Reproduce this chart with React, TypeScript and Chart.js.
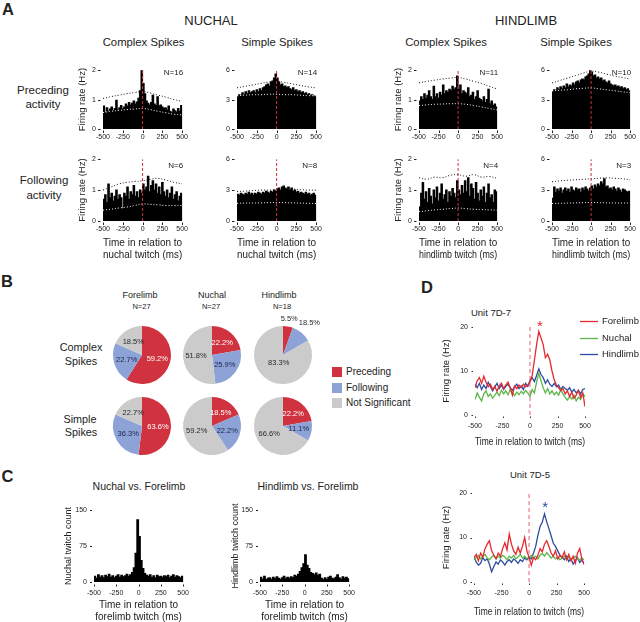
import React, { useEffect, useRef } from 'react';
import { Chart, registerables } from 'chart.js';

Chart.register(...registerables);

const FONT = "'Liberation Sans', Arial, Helvetica, sans-serif";
Chart.defaults.font.family = FONT;
Chart.defaults.color = '#222';

// ================= DATA =================
// Panel A: peri-twitch histograms, 20-ms bins (centres, ms), firing rate (Hz)
const HIST_BINS = [-490, -470, -450, -430, -410, -390, -370, -350, -330, -310, -290, -270, -250, -230, -210, -190, -170, -150, -130, -110, -90, -70, -50, -30, -10, 10, 30, 50, 70, 90, 110, 130, 150, 170, 190, 210, 230, 250, 270, 290, 310, 330, 350, 370, 390, 410, 430, 450, 470, 490];
const BAND_TIMES = [-500, -400, -300, -200, -100, 0, 100, 200, 300, 400, 500];
const X_TICKS_MS = [-500, 500, 250];

const nuchalCsPreceding = [0.78, 0.55, 0.72, 0.6, 0.68, 0.75, 0.62, 0.7, 0.98, 0.65, 0.72, 0.8, 0.68, 0.75, 0.85, 0.78, 0.9, 0.82, 0.88, 0.95, 0.85, 0.92, 1.05, 1.3, 2.0, 1.55, 1.2, 0.95, 0.88, 0.82, 0.9, 1.15, 0.85, 0.8, 1.1, 0.78, 0.82, 0.75, 0.7, 0.72, 0.65, 0.78, 0.6, 0.55, 0.68, 0.62, 0.58, 0.7, 0.6, 0.8];
const nuchalCsPrecedingUpper = [1.04, 1.1, 1.15, 1.2, 1.24, 1.28, 1.22, 1.15, 1.08, 1.0, 0.94];
const nuchalCsPrecedingLower = [0.56, 0.6, 0.63, 0.66, 0.68, 0.7, 0.66, 0.6, 0.55, 0.5, 0.48];

const nuchalSsPreceding = [3.3, 3.5, 3.4, 3.7, 3.5, 3.8, 3.6, 3.9, 3.7, 3.8, 3.9, 3.7, 4.0, 3.8, 4.1, 3.9, 4.2, 4.3, 4.5, 4.6, 4.4, 4.8, 4.9, 5.2, 5.6, 5.2, 4.8, 4.5, 4.6, 4.3, 4.4, 4.2, 4.3, 4.1, 4.0, 4.2, 3.9, 4.0, 3.8, 3.9, 3.7, 3.8, 3.6, 3.7, 3.5, 3.6, 3.4, 3.5, 3.3, 3.4];
const nuchalSsPrecedingUpper = [4.2, 4.35, 4.5, 4.65, 4.8, 4.9, 4.75, 4.6, 4.45, 4.3, 4.2];
const nuchalSsPrecedingLower = [3.4, 3.45, 3.5, 3.5, 3.55, 3.55, 3.5, 3.5, 3.45, 3.4, 3.4];

const hindlimbCsPreceding = [0.95, 1.1, 1.0, 1.2, 1.05, 1.15, 1.3, 1.1, 1.0, 1.45, 1.1, 1.2, 1.05, 1.25, 1.15, 1.5, 1.2, 1.3, 1.25, 1.35, 1.3, 1.45, 1.35, 1.4, 1.8, 1.35, 1.5, 1.2, 1.3, 1.25, 1.2, 1.4, 1.1, 1.15, 1.25, 1.0, 1.1, 1.3, 1.05, 1.0, 0.95, 1.1, 0.9, 1.0, 1.35, 0.85, 0.95, 0.8, 0.85, 0.75];
const hindlimbCsPrecedingUpper = [1.57, 1.62, 1.66, 1.7, 1.73, 1.75, 1.7, 1.62, 1.55, 1.45, 1.36];
const hindlimbCsPrecedingLower = [0.8, 0.82, 0.84, 0.85, 0.86, 0.86, 0.84, 0.8, 0.75, 0.7, 0.65];

const hindlimbSsPreceding = [3.8, 4.0, 3.9, 4.2, 4.0, 4.3, 4.1, 4.4, 4.2, 4.6, 4.3, 4.5, 4.4, 4.7, 4.5, 4.8, 4.9, 4.7, 5.0, 5.1, 5.0, 5.3, 5.4, 5.6, 6.0, 5.8, 5.4, 5.5, 5.2, 5.3, 5.1, 5.2, 4.9, 5.0, 4.8, 4.7, 4.9, 4.6, 4.5, 4.4, 4.5, 4.3, 4.4, 4.2, 4.3, 4.1, 4.2, 4.0, 4.1, 3.9];
const hindlimbSsPrecedingUpper = [4.7, 4.95, 5.2, 5.45, 5.7, 5.9, 5.8, 5.6, 5.4, 5.25, 5.1];
const hindlimbSsPrecedingLower = [3.9, 3.95, 4.0, 4.1, 4.15, 4.2, 4.1, 4.0, 3.9, 3.8, 3.7];

const nuchalCsFollowing = [0.7, 0.85, 0.6, 1.2, 0.75, 0.9, 0.65, 0.8, 1.0, 0.7, 0.85, 0.75, 0.4, 0.9, 0.8, 1.1, 0.7, 0.95, 0.85, 1.15, 0.8, 0.95, 0.75, 1.0, 0.9, 1.2, 1.0, 1.1, 1.45, 0.95, 1.15, 1.3, 1.0, 1.2, 0.9, 1.1, 0.85, 1.25, 0.95, 0.8, 1.0, 0.75, 0.9, 1.1, 0.7, 0.85, 0.95, 0.65, 0.8, 0.9];
const nuchalCsFollowingUpper = [1.0, 1.1, 1.2, 1.25, 1.28, 1.3, 1.35, 1.38, 1.32, 1.25, 1.2];
const nuchalCsFollowingLower = [0.35, 0.38, 0.42, 0.45, 0.5, 0.55, 0.54, 0.52, 0.5, 0.5, 0.5];

const nuchalSsFollowing = [2.6, 2.5, 2.7, 2.6, 2.5, 2.7, 2.6, 2.8, 2.6, 2.7, 2.5, 2.7, 2.6, 2.8, 2.7, 2.6, 2.8, 2.7, 2.9, 2.8, 2.7, 2.9, 2.8, 3.0, 2.9, 3.1, 3.2, 3.0, 3.3, 3.4, 3.2, 3.1, 3.3, 3.0, 3.2, 2.9, 3.0, 2.8, 2.9, 2.7, 2.8, 2.7, 2.6, 2.8, 2.6, 2.7, 2.5, 2.6, 2.7, 2.5];
const nuchalSsFollowingUpper = [2.85, 2.9, 2.95, 3.0, 3.0, 3.05, 3.1, 3.1, 3.05, 3.0, 3.0];
const nuchalSsFollowingLower = [1.72, 1.74, 1.75, 1.76, 1.78, 1.8, 1.78, 1.76, 1.74, 1.72, 1.7];

const hindlimbCsFollowing = [0.45, 0.9, 1.25, 0.7, 0.95, 0.6, 1.05, 0.8, 0.55, 1.0, 0.75, 1.1, 0.65, 0.9, 1.2, 0.7, 0.85, 1.0, 0.6, 0.95, 0.8, 1.05, 0.9, 0.75, 1.3, 1.0, 0.85, 1.15, 0.9, 1.3, 0.95, 1.4, 0.8, 1.2, 1.05, 0.7, 1.25, 0.9, 0.65, 1.0, 0.8, 1.1, 0.6, 0.9, 1.2, 0.75, 0.85, 0.6, 1.0, 0.95];
const hindlimbCsFollowingUpper = [1.4, 1.35, 1.42, 1.4, 1.48, 1.5, 1.45, 1.5, 1.42, 1.44, 1.38];
const hindlimbCsFollowingLower = [0.3, 0.33, 0.36, 0.38, 0.4, 0.42, 0.4, 0.38, 0.37, 0.36, 0.35];

const hindlimbSsFollowing = [2.2, 3.3, 2.8, 3.1, 2.9, 3.2, 2.7, 3.0, 3.2, 2.9, 3.1, 2.8, 3.3, 3.0, 2.9, 3.2, 3.0, 3.1, 2.8, 3.2, 3.0, 3.3, 3.1, 2.9, 3.2, 3.4, 3.1, 3.5, 3.3, 3.6, 3.4, 3.8, 3.6, 4.1, 3.3, 3.4, 3.1, 3.2, 3.0, 3.3, 3.1, 2.9, 3.2, 3.0, 2.8, 3.1, 3.0, 2.9, 2.8, 2.9];
const hindlimbSsFollowingUpper = [3.8, 3.9, 3.95, 4.0, 4.05, 4.1, 4.15, 4.2, 4.15, 4.1, 4.0];
const hindlimbSsFollowingLower = [1.7, 1.72, 1.74, 1.76, 1.78, 1.8, 1.78, 1.76, 1.75, 1.75, 1.75];

// Panel B: proportions of units (%)
const PIE_CATEGORIES = ['Preceding', 'Following', 'Not Significant'];
const forelimbCs = [59.2, 22.7, 18.5];
const nuchalCs = [22.2, 25.9, 51.8];
const hindlimbCs = [5.5, 11.1, 83.3];
const forelimbSs = [63.6, 36.3, 22.7];
const nuchalSs = [18.5, 22.2, 59.2];
const hindlimbSs = [22.2, 11.1, 66.6];
const forelimbCsLabels = ['59.2%', '22.7%', '18.5%'];
const nuchalCsLabels = ['22.2%', '25.9%', '51.8%'];
const hindlimbCsLabels = ['5.5%', '18.5%', '83.3%'];
const forelimbSsLabels = ['63.6%', '36.3%', '22.7%'];
const nuchalSsLabels = ['18.5%', '22.2%', '59.2%'];
const hindlimbSsLabels = ['22.2%', '11.1%', '66.6%'];

// Panel C: cross-correlograms (twitch counts, 20-ms bins)
const nuchalVsForelimb = [12, 8, 15, 10, 13, 9, 14, 11, 16, 10, 13, 9, 12, 15, 10, 14, 11, 13, 16, 12, 15, 20, 30, 60, 130, 95, 45, 28, 18, 14, 12, 15, 10, 13, 9, 14, 11, 12, 10, 13, 11, 14, 9, 12, 15, 10, 13, 11, 9, 12];
const hindlimbVsForelimb = [10, 6, 12, 5, 8, 9, 6, 10, 7, 11, 8, 6, 9, 12, 7, 10, 8, 11, 9, 14, 12, 16, 22, 30, 38, 57, 35, 28, 20, 18, 15, 19, 14, 16, 8, 5, 9, 6, 10, 12, 8, 7, 10, 15, 9, 6, 11, 8, 10, 7];

// Panel D: single-unit firing rate (Hz), 20-ms steps
const TIME_D = [-500, -480, -460, -440, -420, -400, -380, -360, -340, -320, -300, -280, -260, -240, -220, -200, -180, -160, -140, -120, -100, -80, -60, -40, -20, 0, 20, 40, 60, 80, 100, 120, 140, 160, 180, 200, 220, 240, 260, 280, 300, 320, 340, 360, 380, 400, 420, 440, 460, 480, 500];
const D_SERIES = ['Forelimb', 'Nuchal', 'Hindlimb'];
const unit7D7Forelimb = [6.2, 7.8, 8.5, 7.2, 8.8, 7.5, 6.4, 7.0, 5.8, 6.5, 5.4, 6.6, 7.2, 6.0, 6.8, 7.5, 6.2, 4.5, 6.6, 6.0, 6.8, 6.2, 7.0, 6.4, 6.8, 7.5, 9.0, 12.5, 16.0, 19.0, 17.5, 16.0, 13.0, 13.8, 12.5, 10.0, 8.0, 6.8, 6.2, 5.5, 6.0, 4.8, 5.5, 4.2, 5.2, 3.8, 4.5, 5.6, 4.0, 5.0, 1.9];
const unit7D7Nuchal = [3.5, 5.0, 4.0, 3.2, 4.8, 5.5, 4.2, 4.8, 3.8, 4.5, 5.2, 4.4, 5.6, 4.8, 5.5, 4.6, 5.8, 5.0, 4.4, 5.2, 4.6, 5.4, 4.8, 5.6, 5.0, 4.2, 5.8, 5.0, 7.5, 9.5, 7.8, 6.2, 5.0, 6.0, 4.8, 5.5, 4.6, 5.2, 4.5, 5.8, 4.8, 4.0, 3.4, 4.2, 3.6, 4.5, 3.2, 4.0, 3.5, 4.8, 4.2];
const unit7D7Hindlimb = [7.0, 6.2, 7.2, 5.8, 6.8, 6.0, 7.4, 6.5, 5.5, 6.4, 7.2, 6.0, 6.8, 5.8, 6.5, 7.0, 6.2, 5.6, 6.4, 7.0, 6.0, 6.6, 5.8, 7.2, 6.5, 7.8, 8.5, 7.6, 9.0, 10.5, 9.2, 8.5, 7.2, 8.0, 7.0, 6.5, 7.2, 6.4, 6.8, 5.8, 6.5, 6.0, 5.6, 6.2, 5.2, 5.8, 5.0, 5.6, 4.8, 5.8, 6.0];
const unit7D5Forelimb = [5.5, 6.2, 4.8, 6.5, 5.6, 7.5, 8.5, 9.3, 7.0, 6.0, 5.2, 6.5, 5.8, 7.5, 8.8, 7.2, 10.8, 8.5, 7.0, 6.2, 7.8, 6.5, 8.0, 10.0, 7.0, 5.5, 3.8, 5.5, 5.0, 6.0, 7.5, 6.8, 8.5, 9.3, 8.0, 6.5, 5.8, 7.0, 5.2, 6.0, 5.5, 6.8, 5.0, 6.2, 4.8, 5.8, 4.2, 6.5, 7.5, 5.0, 4.0];
const unit7D5Nuchal = [5.0, 5.5, 6.0, 5.2, 5.8, 6.2, 5.4, 5.0, 5.6, 6.0, 5.2, 5.8, 5.4, 6.0, 5.6, 5.0, 5.8, 5.4, 6.0, 5.2, 5.6, 6.2, 5.4, 5.8, 5.2, 5.6, 6.0, 5.4, 5.8, 5.2, 6.0, 6.4, 5.8, 6.6, 6.0, 5.4, 5.8, 5.2, 5.6, 5.0, 5.4, 5.8, 5.2, 5.6, 5.0, 5.4, 5.8, 5.2, 5.0, 5.4, 5.0];
const unit7D5Hindlimb = [5.7, 4.5, 3.8, 4.2, 5.5, 4.8, 5.2, 4.0, 2.3, 3.5, 4.5, 4.0, 5.0, 4.5, 3.8, 4.6, 5.0, 4.4, 5.2, 4.8, 4.2, 5.0, 4.6, 5.4, 5.0, 5.6, 5.2, 6.5, 8.0, 10.5, 12.5, 13.5, 15.3, 13.5, 12.0, 10.4, 8.7, 8.0, 7.0, 6.0, 5.5, 5.0, 5.8, 4.6, 5.2, 4.0, 4.8, 5.5, 4.4, 5.0, 4.0];

// ================= STYLE =================
const PIE_COLORS = ['#d0333f', '#8da2d7', '#cbcbcb'];
const PIE_TEXT = ['#ffffff', '#1c2748', '#2a2a2a'];
const D_COLORS = ['#e4292f', '#5db64a', '#2d4c9e'];
const ZERO_A = '#c8343c';
const ZERO_D = '#e77a8b';

// ================= PLUGINS =================
const rTicks = {
  id: 'rTicks',
  afterDraw(chart: any, _a: any, o: any) {
    if (!o || !o.on) return;
    const ctx = chart.ctx;
    const ca = chart.chartArea;
    ctx.save();
    ctx.strokeStyle = o.color || '#222';
    ctx.lineWidth = 1;
    const ys = chart.scales.y;
    ys.ticks.forEach((t: any) => {
      const p = Math.round(ys.getPixelForValue(t.value)) + 0.5;
      ctx.beginPath();
      ctx.moveTo(ca.left - o.yGap - o.yLen, p);
      ctx.lineTo(ca.left - o.yGap, p);
      ctx.stroke();
    });
    const xs = chart.scales.x;
    xs.ticks.forEach((t: any) => {
      const p = Math.round(xs.getPixelForValue(t.value)) + 0.5;
      ctx.beginPath();
      ctx.moveTo(p, ca.bottom + o.xGap);
      ctx.lineTo(p, ca.bottom + o.xGap + o.xLen);
      ctx.stroke();
    });
    ctx.restore();
  },
};

const annot = {
  id: 'annot',
  afterDatasetsDraw(chart: any, _a: any, o: any) {
    if (!o || !o.items) return;
    const ctx = chart.ctx;
    const ca = chart.chartArea;
    ctx.save();
    for (const it of o.items) {
      let x: number;
      let y: number;
      if (it.rel === 'data') {
        x = chart.scales.x.getPixelForValue(it.x);
        y = chart.scales.y.getPixelForValue(it.y);
      } else {
        x = ca.right + it.x;
        y = ca.top + it.y;
      }
      if (it.line) {
        ctx.strokeStyle = it.lineColor;
        ctx.lineWidth = 1.3;
        ctx.beginPath();
        ctx.moveTo(x, y + 0.5);
        ctx.lineTo(x + it.line, y + 0.5);
        ctx.stroke();
        x += it.line + 4;
      }
      ctx.font = `${it.size}px ${FONT}`;
      ctx.fillStyle = it.color || '#222';
      ctx.textAlign = it.align || 'left';
      ctx.textBaseline = 'middle';
      ctx.fillText(it.text, x, y);
    }
    ctx.restore();
  },
};

const pieLabels = {
  id: 'pieLabels',
  afterDatasetsDraw(chart: any, _a: any, o: any) {
    if (!o || !o.labels) return;
    const ctx = chart.ctx;
    const meta = chart.getDatasetMeta(0);
    ctx.save();
    ctx.font = `${o.size}px ${FONT}`;
    ctx.textAlign = 'center';
    ctx.textBaseline = 'middle';
    meta.data.forEach((arc: any, i: number) => {
      const p = arc.getProps(['x', 'y', 'startAngle', 'endAngle', 'outerRadius'], true);
      const mid = (p.startAngle + p.endAngle) / 2;
      const r = p.outerRadius * o.radii[i];
      ctx.fillStyle = o.colors[i];
      ctx.fillText(o.labels[i], p.x + Math.cos(mid) * r, p.y + Math.sin(mid) * r);
    });
    ctx.restore();
  },
};

// ================= LAYOUT HELPERS =================
type Geo = { l: number; r: number; t: number; b: number; padL: number; padB: number; top: number; right: number };
const rectOf = (g: Geo) => ({ left: g.l - g.padL, top: g.t - g.top, width: g.r - g.l + g.padL + g.right, height: g.b - g.t + g.top + g.padB });

function cartesianOptions(g: Geo, s: any, plugins: any) {
  return {
    responsive: false,
    animation: false,
    events: [],
    layout: { padding: { left: 0, top: g.top, right: g.right, bottom: 0 } },
    plugins: { legend: { display: false }, tooltip: { enabled: false }, ...plugins },
    scales: {
      x: {
        type: 'linear', min: s.xMin, max: s.xMax, offset: false,
        afterFit: (sc: any) => { sc.height = g.padB; },
        grid: { display: false, drawTicks: false }, border: { display: false },
        ticks: { stepSize: s.xStep, padding: s.xPad, maxRotation: 0, autoSkip: false, font: { size: 7 }, color: '#222' },
        title: s.xTitle ? { display: true, text: s.xTitle, font: { size: s.xTitleSize, lineHeight: 1.2 }, padding: 0, color: '#222' } : { display: false },
      },
      y: {
        type: 'linear', min: 0, max: s.yMax,
        afterFit: (sc: any) => { sc.width = g.padL; },
        grid: { display: false, drawTicks: false }, border: { display: false },
        ticks: { stepSize: s.yStep, padding: s.yPad, font: { size: 7 }, color: '#222' },
        title: s.yTitle ? { display: true, text: s.yTitle, font: { size: s.yTitleSize, lineHeight: 1.2 }, padding: 0, color: '#222' } : { display: false },
      },
    },
  };
}

function histConfig(p: any) {
  const datasets: any[] = [
    { type: 'line', data: [{ x: 0, y: 0 }, { x: 0, y: p.yMax }], borderColor: p.zeroColor || ZERO_A, borderWidth: 1, borderDash: [3, 2], pointRadius: 0, order: 0 },
  ];
  if (p.upper) datasets.push({ type: 'line', data: BAND_TIMES.map((t, i) => ({ x: t, y: p.upper[i] })), borderColor: '#111', borderWidth: 1, borderDash: [1, 2], pointRadius: 0, tension: 0.4, order: 1 });
  if (p.lower) datasets.push({ type: 'line', data: BAND_TIMES.map((t, i) => ({ x: t, y: p.lower[i] })), borderColor: '#ffffff', borderWidth: 1, borderDash: [1, 2], pointRadius: 0, tension: 0.4, order: 2 });
  datasets.push({
    type: 'bar', data: HIST_BINS.map((t, i) => ({ x: t, y: p.values[i] })), backgroundColor: '#000', borderWidth: 0,
    barPercentage: 1, categoryPercentage: 1, inflateAmount: 0.5, order: 3,
  });
  const items = p.n ? [{ text: p.n, x: 1, y: p.nDy, size: 8, align: 'right' }] : [];
  return {
    type: 'bar',
    data: { datasets },
    options: cartesianOptions(p.geo, {
      xMin: X_TICKS_MS[0], xMax: X_TICKS_MS[1], xStep: X_TICKS_MS[2], xPad: p.xPad, yPad: 7,
      yMax: p.yMax, yStep: p.yStep, yTitle: p.yTitle, yTitleSize: p.yTitleSize || 9.5, xTitle: p.xTitle, xTitleSize: 10,
    }, {
      rTicks: { on: true, yGap: 2.5, yLen: 2.5, xGap: 1.5, xLen: 2.5, color: '#222' },
      annot: { items },
    }),
    plugins: [rTicks, annot],
  };
}

function lineConfig(p: any) {
  const datasets: any[] = D_SERIES.map((name, k) => ({
    type: 'line', label: name, data: TIME_D.map((t, i) => ({ x: t, y: p.series[k][i] })),
    borderColor: D_COLORS[k], borderWidth: 1.3, pointRadius: 0, tension: 0, order: k,
  }));
  datasets.push({ type: 'line', label: 'twitch', data: [{ x: 0, y: 0 }, { x: 0, y: 20 }], borderColor: ZERO_D, borderWidth: 1.2, borderDash: [4, 3], pointRadius: 0, order: 9 });
  const items: any[] = [{ rel: 'data', x: p.star[0], y: p.star[1], text: '*', size: 15, color: D_COLORS[p.starSeries], align: 'center' }];
  if (p.legend) {
    D_SERIES.forEach((name, k) => items.push({ x: -5, y: [-6, 11, 27][k], line: 18, lineColor: D_COLORS[k], text: name, size: 9.5 }));
  }
  return {
    type: 'line',
    data: { datasets },
    options: cartesianOptions(p.geo, {
      xMin: X_TICKS_MS[0], xMax: X_TICKS_MS[1], xStep: X_TICKS_MS[2], xPad: 7, yPad: 7,
      yMax: 20, yStep: 10, yTitle: 'Firing rate (Hz)', yTitleSize: 9.5, xTitle: 'Time in relation to twitch (ms)', xTitleSize: 10,
    }, {
      rTicks: { on: true, yGap: 2, yLen: 1.5, xGap: 1.5, xLen: 1.5, color: '#333' },
      annot: { items },
    }),
    plugins: [rTicks, annot],
  };
}

function pieConfig(values: number[], labels: string[], radii: number[], colors: string[]) {
  return {
    type: 'pie',
    data: { labels: PIE_CATEGORIES, datasets: [{ data: values, backgroundColor: PIE_COLORS, borderWidth: 0, hoverOffset: 0, radius: 29 }] },
    options: {
      responsive: false, animation: false, events: [],
      layout: { padding: { left: 21, right: 21, top: 13, bottom: 13 } },
      plugins: { legend: { display: false }, tooltip: { enabled: false }, pieLabels: { labels, radii, colors, size: 7.5 } },
    },
    plugins: [pieLabels],
  };
}

// ================= COMPONENTS =================
function ChartBox({ rect, make }: any) {
  const ref = useRef<HTMLCanvasElement>(null);
  useEffect(() => {
    const c = new Chart(ref.current as any, make());
    return () => c.destroy();
  }, []);
  return (
    <canvas ref={ref} width={rect.width} height={rect.height}
      style={{ position: 'absolute', left: rect.left, top: rect.top, width: rect.width, height: rect.height }} />
  );
}

function Txt({ x, y, size, children, bold = false, anchor = 'middle' }: any) {
  const tx = anchor === 'start' ? '0' : '-50%';
  return (
    <div style={{ position: 'absolute', left: x, top: y, transform: `translate(${tx}, -50%)`, fontSize: size, fontWeight: bold ? 700 : 400, lineHeight: 1, whiteSpace: 'nowrap' }}>
      {children}
    </div>
  );
}

const ROW1 = { t: 67, b: 129, top: 8, padB: 12 };
const ROW2 = { t: 156, b: 221, top: 8, padB: 40 };
const COLS = [
  { l: 103, r: 184, padL: 26 },
  { l: 237, r: 318, padL: 18 },
  { l: 419, r: 499, padL: 26 },
  { l: 552, r: 632, padL: 18 },
];
const geoA = (row: any, col: any): Geo => ({ l: col.l, r: col.r, t: row.t, b: row.b, padL: col.padL, padB: row.padB, top: row.top, right: 8 });

export default function App() {
  const yT = 'Firing rate (Hz)';
  const charts: any[] = [];
  const A = [
    { geo: geoA(ROW1, COLS[0]), values: nuchalCsPreceding, upper: nuchalCsPrecedingUpper, lower: nuchalCsPrecedingLower, yMax: 2, yStep: 1, n: 'N=16', nDy: 3, yTitle: yT, xPad: 4 },
    { geo: geoA(ROW1, COLS[1]), values: nuchalSsPreceding, upper: nuchalSsPrecedingUpper, lower: nuchalSsPrecedingLower, yMax: 6, yStep: 3, n: 'N=14', nDy: 3, xPad: 4 },
    { geo: geoA(ROW1, COLS[2]), values: hindlimbCsPreceding, upper: hindlimbCsPrecedingUpper, lower: hindlimbCsPrecedingLower, yMax: 2, yStep: 1, n: 'N=11', nDy: 3, yTitle: yT, xPad: 4 },
    { geo: geoA(ROW1, COLS[3]), values: hindlimbSsPreceding, upper: hindlimbSsPrecedingUpper, lower: hindlimbSsPrecedingLower, yMax: 6, yStep: 3, n: 'N=10', nDy: 3, xPad: 4 },
    { geo: geoA(ROW2, COLS[0]), values: nuchalCsFollowing, upper: nuchalCsFollowingUpper, lower: nuchalCsFollowingLower, yMax: 2, yStep: 1, n: 'N=6', nDy: 7, yTitle: yT, xPad: 4, xTitle: ['Time in relation to', 'nuchal twitch (ms)'] },
    { geo: geoA(ROW2, COLS[1]), values: nuchalSsFollowing, upper: nuchalSsFollowingUpper, lower: nuchalSsFollowingLower, yMax: 6, yStep: 3, n: 'N=8', nDy: 7, xPad: 4, xTitle: ['Time in relation to', 'nuchal twitch (ms)'] },
    { geo: geoA(ROW2, COLS[2]), values: hindlimbCsFollowing, upper: hindlimbCsFollowingUpper, lower: hindlimbCsFollowingLower, yMax: 2, yStep: 1, n: 'N=4', nDy: 7, yTitle: yT, xPad: 4, xTitle: ['Time in relation to', 'hindlimb twitch (ms)'] },
    { geo: geoA(ROW2, COLS[3]), values: hindlimbSsFollowing, upper: hindlimbSsFollowingUpper, lower: hindlimbSsFollowingLower, yMax: 6, yStep: 3, n: 'N=3', nDy: 7, xPad: 4, xTitle: ['Time in relation to', 'hindlimb twitch (ms)'] },
  ];
  A.forEach((p) => charts.push({ rect: rectOf(p.geo), make: () => histConfig(p) }));

  const C = [
    { geo: { l: 94, r: 188, t: 507, b: 582, padL: 31, padB: 41, top: 8, right: 8 }, values: nuchalVsForelimb, yTitle: 'Nuchal twitch count' },
    { geo: { l: 260, r: 354, t: 507, b: 582, padL: 30, padB: 41, top: 8, right: 8 }, values: hindlimbVsForelimb, yTitle: 'Hindlimb twitch count' },
  ];
  C.forEach((c) => {
    const p = { geo: c.geo, values: c.values, yMax: 150, yStep: 75, yTitle: c.yTitle, yTitleSize: 9, xPad: 7, xTitle: ['Time in relation to', 'forelimb twitch (ms)'], zeroColor: 'rgba(0,0,0,0)' };
    charts.push({ rect: rectOf(c.geo as Geo), make: () => { const cfg: any = histConfig(p); cfg.options.plugins.rTicks = { on: true, yGap: 2, yLen: 2, xGap: 2.5, xLen: 2, color: '#222' }; return cfg; } });
  });

  const D = [
    { geo: { l: 475, r: 585, t: 327, b: 415, padL: 34, padB: 33, top: 15, right: 55 }, series: [unit7D7Forelimb, unit7D7Nuchal, unit7D7Hindlimb], star: [90, 20.1], starSeries: 0, legend: true },
    { geo: { l: 474, r: 587, t: 493, b: 582, padL: 33, padB: 36, top: 20, right: 10 }, series: [unit7D5Forelimb, unit7D5Nuchal, unit7D5Hindlimb], star: [146, 16.7], starSeries: 2, legend: false },
  ];
  D.forEach((p) => charts.push({ rect: rectOf(p.geo as Geo), make: () => lineConfig(p) }));

  const DEF_R = [0.55, 0.55, 0.55];
  const PIES = [
    { cx: 142, cy: 355, v: forelimbCs, lab: forelimbCsLabels, radii: DEF_R, colors: PIE_TEXT },
    { cx: 212, cy: 355, v: nuchalCs, lab: nuchalCsLabels, radii: DEF_R, colors: PIE_TEXT },
    { cx: 283, cy: 355, v: hindlimbCs, lab: hindlimbCsLabels, radii: [1.25, 1.42, 0.3], colors: ['#2a2a2a', '#2a2a2a', '#2a2a2a'] },
    { cx: 142, cy: 426, v: forelimbSs, lab: forelimbSsLabels, radii: DEF_R, colors: PIE_TEXT },
    { cx: 212, cy: 426, v: nuchalSs, lab: nuchalSsLabels, radii: DEF_R, colors: PIE_TEXT },
    { cx: 283, cy: 426, v: hindlimbSs, lab: hindlimbSsLabels, radii: DEF_R, colors: PIE_TEXT },
  ];
  PIES.forEach((p) => charts.push({ rect: { left: p.cx - 50, top: p.cy - 42, width: 100, height: 84 }, make: () => pieConfig(p.v, p.lab, p.radii, p.colors) }));

  const LEG_Y = [372, 388, 403];

  return (
    <div style={{ position: 'absolute', left: 0, top: 0, width: 640, height: 622, overflow: 'hidden', background: '#fff', fontFamily: FONT, color: '#222' }}>
      <Txt x={8} y={9} size={16.5} bold>A</Txt>
      <Txt x={211} y={20} size={13}>NUCHAL</Txt>
      <Txt x={526} y={20} size={13}>HINDLIMB</Txt>
      <Txt x={143.5} y={43} size={11.3}>Complex Spikes</Txt>
      <Txt x={277} y={43} size={11.3}>Simple Spikes</Txt>
      <Txt x={446} y={43} size={11.3}>Complex Spikes</Txt>
      <Txt x={576} y={43} size={11.3}>Simple Spikes</Txt>
      <Txt x={43} y={91} size={11.5}>Preceding</Txt>
      <Txt x={43} y={105} size={11.5}>activity</Txt>
      <Txt x={44} y={181} size={11.5}>Following</Txt>
      <Txt x={44} y={196} size={11.5}>activity</Txt>

      <Txt x={7} y={281} size={16.5} bold>B</Txt>
      <Txt x={140} y={295} size={9}>Forelimb</Txt>
      <Txt x={212} y={295} size={9}>Nuchal</Txt>
      <Txt x={279} y={295} size={9}>Hindlimb</Txt>
      <Txt x={141.5} y={307} size={7.5}>N=27</Txt>
      <Txt x={211} y={307} size={7.5}>N=27</Txt>
      <Txt x={282} y={307} size={7.5}>N=18</Txt>
      <Txt x={81} y={347} size={10.8}>Complex</Txt>
      <Txt x={81} y={361} size={10.8}>Spikes</Txt>
      <Txt x={80} y={419} size={10.8}>Simple</Txt>
      <Txt x={81} y={432} size={10.8}>Spikes</Txt>
      {PIE_CATEGORIES.map((name, i) => (
        <React.Fragment key={name}>
          <div style={{ position: 'absolute', left: 332, top: LEG_Y[i] - 5, width: 10, height: 10, background: PIE_COLORS[i] }} />
          <Txt x={346} y={LEG_Y[i]} size={10} anchor="start">{name}</Txt>
        </React.Fragment>
      ))}

      <Txt x={7.5} y={476} size={16.5} bold>C</Txt>
      <Txt x={139} y={486} size={10.5}>Nuchal vs. Forelimb</Txt>
      <Txt x={308} y={486} size={10.5}>Hindlimb vs. Forelimb</Txt>

      <Txt x={427} y={287} size={16.5} bold>D</Txt>
      <Txt x={491} y={313} size={9.5}>Unit 7D-7</Txt>
      <Txt x={530} y={475} size={9.5}>Unit 7D-5</Txt>

      {charts.map((c, i) => <ChartBox key={i} rect={c.rect} make={c.make} />)}
    </div>
  );
}
